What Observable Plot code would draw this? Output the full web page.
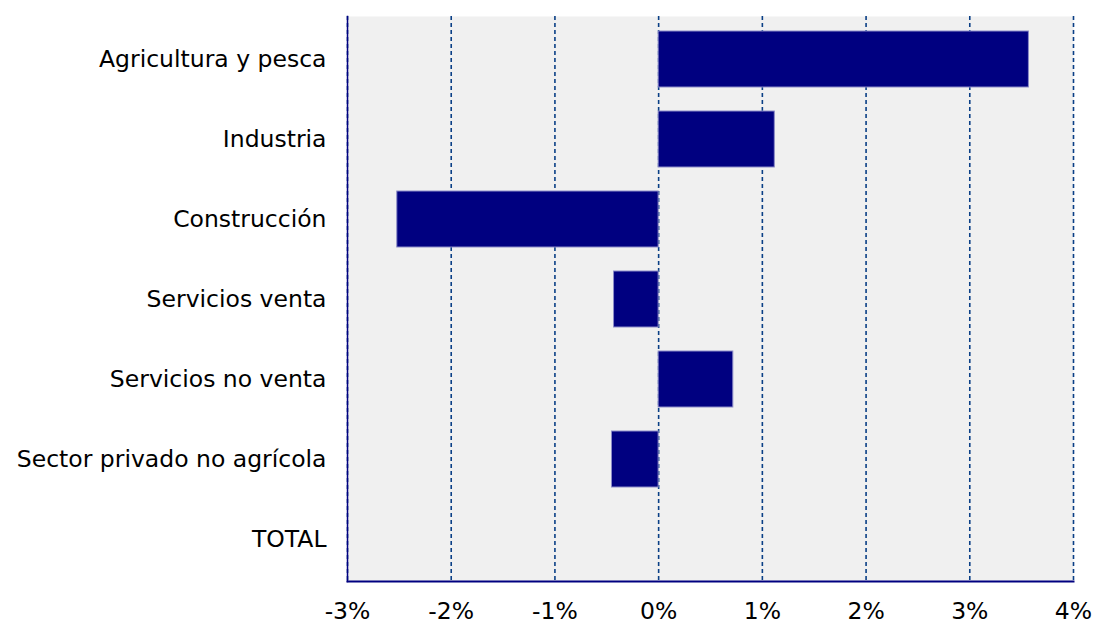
<!DOCTYPE html>
<html>
<head>
<meta charset="utf-8">
<script src="https://cdn.jsdelivr.net/npm/d3@7"></script>
<script src="https://cdn.jsdelivr.net/npm/@observablehq/plot@0.6"></script>
<style>
  html, body { margin: 0; padding: 0; background: #ffffff; }
  #chart svg { display: block; }
</style>
</head>
<body>
<div id="chart"></div>
<script>
const categories = [
  "Agricultura y pesca",
  "Industria",
  "Construcción",
  "Servicios venta",
  "Servicios no venta",
  "Sector privado no agrícola",
  "TOTAL"
];
const values = [3.57, 1.12, -2.52, -0.43, 0.72, -0.45, 0.0];
const xTicks = [-3, -2, -1, 0, 1, 2, 3, 4];

const data = categories.map((c, i) => ({category: c, value: values[i]}));

const chart = Plot.plot({
  width: 1096,
  height: 624,
  marginLeft: 347,
  marginRight: 23,
  marginTop: 16,
  marginBottom: 43,
  style: {fontFamily: "'DejaVu Sans', Verdana, sans-serif", fontSize: "23.5px", color: "#000", background: "#fff"},
  x: {domain: [-3, 4], ticks: xTicks, tickFormat: d => d + "%"},
  y: {domain: categories, paddingInner: 0.3, paddingOuter: 0.15},
  marks: [
    Plot.frame({fill: "#f0f0f0", stroke: "none"}),
    Plot.ruleX(xTicks, {stroke: "#0a3f86", strokeWidth: 1.6, strokeDasharray: "4,3"}),
    Plot.barX(data, {y: "category", x: "value", fill: "#000080", stroke: "#8c8cc8", strokeWidth: 1}),
    Plot.frame({anchor: "left", stroke: "#000080", strokeWidth: 1.5}),
    Plot.frame({anchor: "bottom", stroke: "#000080", strokeWidth: 2}),
    Plot.axisX({ticks: xTicks, tickFormat: d => d + "%", tickSize: 0, tickPadding: 21, fontSize: 23.5, label: null}),
    Plot.axisY({tickSize: 0, tickPadding: 21, fontSize: 23.5, label: null})
  ]
});
document.getElementById("chart").appendChild(chart);
</script>
</body>
</html>
